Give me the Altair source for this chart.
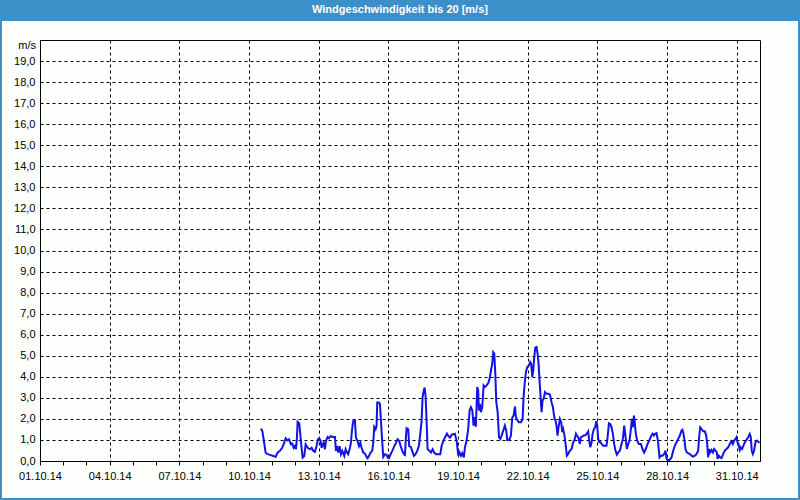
import altair as alt
import pandas as pd

TITLE = "Windgeschwindigkeit bis 20 [m/s]"
UNIT = "m/s"
BLUE = "#3d8fc9"
LINE = "#1212e6"
FONT = "Liberation Sans"

# (hours since 01.10.14 00:00, wind speed m/s)
seg_a = [(228.3, 1.54), (229.7, 1.43), (231.4, 0.95), (233.1, 0.40), (234.2, 0.35), (237.6, 0.29),
         (241.0, 0.24), (243.5, 0.19), (245.5, 0.40), (247.9, 0.48), (250.3, 0.63), (252.4, 0.87),
         (253.8, 1.08), (255.5, 0.98), (257.2, 1.03), (259.3, 0.79), (260.7, 0.83), (262.1, 0.63),
         (263.4, 0.71), (264.5, 0.56), (265.5, 1.11), (266.2, 1.86), (267.9, 1.78), (269.3, 1.11),
         (270.3, 0.63), (271.4, 0.16), (273.1, 0.24), (274.5, 0.79), (276.6, 0.63), (278.9, 0.56),
         (280.7, 0.63), (282.4, 0.48), (284.1, 0.44), (285.8, 0.71), (287.2, 1.03), (288.6, 1.08),
         (290.0, 0.95), (291.0, 0.63), (292.0, 0.79), (293.1, 0.87), (294.4, 0.56), (295.5, 0.95),
         (297.2, 1.14), (298.6, 1.08), (300.6, 1.19), (302.4, 1.14), (304.8, 1.14), (305.8, 0.48),
         (306.8, 0.71), (308.2, 0.40), (309.6, 0.71), (311.0, 0.32), (312.4, 0.48), (314.4, 0.24),
         (315.8, 0.56), (317.2, 0.40), (318.5, 0.32), (320.3, 0.63), (321.3, 0.87), (322.3, 1.43),
         (323.4, 1.83), (324.1, 1.94)]
seg_b = [(325.4, 1.94), (326.5, 1.11), (328.2, 0.95), (329.6, 0.71), (331.0, 0.87), (332.3, 0.63),
         (334.1, 0.40), (335.8, 0.35), (337.5, 0.19), (338.5, 0.13), (339.9, 0.24), (341.6, 0.40),
         (343.3, 0.48), (344.4, 0.87), (345.4, 1.62), (346.8, 1.51), (347.8, 1.67), (348.5, 2.78),
         (350.2, 2.78), (351.3, 2.70), (352.3, 1.90), (353.7, 0.87), (354.7, 0.19), (356.5, 0.32),
         (358.2, 0.29), (359.2, 0.16), (360.6, 0.13), (362.3, 0.32), (364.0, 0.48), (365.8, 0.67),
         (367.5, 0.83), (369.5, 1.03), (371.3, 0.95), (372.6, 0.71), (374.4, 0.48), (376.1, 0.32),
         (377.1, 0.29), (378.1, 1.11), (378.8, 1.56), (380.5, 1.51), (381.5, 0.71), (383.2, 0.67),
         (384.6, 0.48), (386.4, 0.24), (388.1, 0.32), (389.8, 0.48), (391.5, 0.71), (392.9, 1.27),
         (394.3, 1.90), (395.3, 3.02), (396.4, 3.30), (397.4, 3.49), (398.4, 3.10), (399.5, 1.90),
         (400.5, 0.56), (401.9, 0.51), (404.0, 0.40), (405.7, 0.56), (407.4, 0.40), (409.2, 0.32),
         (411.6, 0.32), (413.6, 0.32), (415.0, 0.71), (416.7, 0.95), (418.4, 1.11), (420.5, 1.30),
         (421.9, 1.19), (423.6, 1.11), (425.3, 1.24), (427.1, 1.27)]
seg_c = [(428.7, 1.29), (430.5, 0.97), (432.2, 0.25), (433.6, 0.41), (435.0, 0.25), (436.3, 0.37),
         (438.0, 0.17), (439.1, 0.65), (440.8, 0.97), (442.5, 1.52), (443.9, 2.40), (445.3, 2.56),
         (446.7, 2.40), (448.0, 1.68), (449.4, 2.08), (450.4, 1.63), (451.8, 3.51), (452.8, 3.35),
         (453.5, 2.40), (454.6, 2.71), (455.6, 2.32), (457.0, 2.56), (458.4, 3.59), (459.7, 3.51),
         (461.5, 3.59), (463.2, 3.70), (464.6, 3.90), (466.0, 4.30), (467.3, 4.62), (468.4, 5.17),
         (469.4, 5.10), (470.5, 4.14), (471.5, 2.79), (472.9, 2.32), (474.3, 1.13), (475.6, 1.05),
         (477.0, 1.21), (478.7, 1.44), (480.4, 1.68), (481.8, 1.44), (482.8, 1.00), (484.9, 1.00),
         (486.6, 1.21), (488.0, 2.05), (489.4, 2.16), (490.8, 2.59), (491.8, 2.08), (493.2, 1.95),
         (494.9, 1.84), (497.0, 1.84), (498.7, 2.00), (499.7, 3.03), (500.8, 3.67), (502.1, 4.22),
         (503.5, 4.46), (505.2, 4.54), (506.6, 4.70), (507.6, 4.62), (508.7, 3.98), (509.7, 4.30),
         (510.7, 4.94), (511.8, 5.38), (513.1, 5.41), (514.2, 5.10), (515.2, 4.62), (516.2, 3.83),
         (517.3, 3.03), (518.3, 2.32), (519.3, 2.87), (520.4, 2.95), (521.8, 3.27), (523.5, 3.19),
         (525.2, 3.19), (526.9, 3.16), (528.6, 2.79), (530.0, 2.56), (531.4, 2.08)]
seg_d = [(532.7, 1.92), (533.7, 1.68), (534.8, 1.21), (535.8, 1.60), (537.2, 2.00), (538.6, 1.84),
         (539.6, 1.37), (540.6, 1.52), (541.7, 1.29), (543.1, 0.81), (544.4, 0.25), (545.8, 0.33),
         (547.5, 0.49), (549.3, 0.57), (551.0, 0.89), (552.7, 1.05), (553.8, 1.29), (554.8, 1.21),
         (556.2, 1.13), (557.9, 0.81), (558.9, 1.13), (560.3, 1.16), (561.7, 1.21), (563.1, 1.21),
         (564.8, 1.29), (566.5, 1.41), (567.5, 0.97), (568.6, 0.65), (570.0, 0.89), (571.0, 1.29),
         (572.4, 1.52), (573.7, 1.60), (574.8, 1.89), (575.8, 1.68), (576.8, 1.05), (577.9, 0.89),
         (579.3, 0.89), (580.3, 0.81), (582.0, 0.73), (583.7, 0.73), (585.4, 0.73), (586.5, 1.13),
         (587.9, 1.79), (589.2, 1.76), (590.6, 1.60), (592.0, 1.29), (593.3, 0.81), (594.7, 0.49),
         (596.1, 0.30), (597.5, 0.41), (599.2, 0.49), (600.9, 0.81), (602.3, 1.05), (603.7, 1.68),
         (605.1, 1.13), (606.4, 0.57), (607.8, 0.81), (609.2, 0.97), (610.6, 1.52), (611.6, 2.00),
         (612.6, 1.60), (613.7, 2.16), (614.7, 1.76), (615.7, 1.29), (617.1, 0.97), (618.8, 0.81),
         (620.9, 0.81), (622.6, 0.57), (624.3, 0.41), (626.0, 0.57), (627.8, 0.81), (629.5, 0.97),
         (631.2, 1.16), (632.9, 1.29), (634.3, 1.21)]
seg_e = [(635.4, 1.29), (637.1, 1.32), (638.5, 0.97), (639.5, 0.49), (640.2, 0.17), (641.6, 0.25),
         (643.3, 0.25), (645.0, 0.33), (646.4, 0.49), (647.4, 0.10), (648.5, 0.05), (650.5, 0.05),
         (652.6, 0.17), (654.3, 0.49), (656.0, 0.73), (657.8, 0.89), (659.5, 1.05), (661.2, 1.21),
         (662.9, 1.44), (663.9, 1.48), (665.0, 1.29), (666.0, 0.97), (667.0, 0.57), (668.4, 0.41),
         (669.8, 0.37), (671.5, 0.33), (673.2, 0.25), (674.9, 0.21), (676.7, 0.25), (678.4, 0.33),
         (680.1, 0.49), (681.1, 1.13), (682.2, 1.60), (683.5, 1.52), (685.3, 1.41), (687.0, 1.41),
         (688.4, 1.21), (689.4, 0.81), (690.4, 0.17), (691.5, 0.57), (692.5, 0.41), (693.9, 0.52),
         (695.3, 0.41), (696.6, 0.57), (698.0, 0.49), (699.4, 0.41), (700.1, 0.10), (701.4, 0.25),
         (702.8, 0.17), (704.2, 0.14), (705.9, 0.33), (707.6, 0.49), (709.4, 0.57), (711.1, 0.65),
         (712.8, 0.81), (714.5, 0.94), (715.9, 0.81), (717.3, 0.97), (718.7, 1.05), (719.7, 1.13),
         (720.7, 0.89), (721.8, 0.81), (723.1, 0.52), (724.2, 0.65), (725.5, 0.57), (726.9, 0.73),
         (728.3, 0.89), (730.0, 1.00), (731.7, 1.13), (733.4, 1.29), (734.5, 1.13), (735.5, 0.49),
         (736.6, 0.33), (737.9, 0.49), (739.3, 0.89), (740.7, 0.97), (742.7, 0.89), (743.7, 0.89)]

y_ticks = list(range(0, 20))
x_ticks = list(range(0, 31))  # days since 01.10.14

rows = seg_a + seg_b + seg_c + seg_d + seg_e
df = pd.DataFrame(rows, columns=["hours", "speed"])
df["day"] = df["hours"] / 24.0

deco = pd.DataFrame({"t": [TITLE]})

x_enc = alt.X(
    "day:Q",
    scale=alt.Scale(domain=[0, 31], nice=False, zero=False),
    axis=alt.Axis(
        values=x_ticks,
        title=None,
        labelExpr="datum.value % 3 == 0 ? (datum.value < 9 ? '0' : '') + (datum.value + 1) + '.10.14' : ''",
        labelFont=FONT, labelFontSize=11, labelColor="black",
        labelPadding=5, tickSize=4, tickColor="black",
        domainColor="black", labelOverlap=False, labelFlush=False,
        grid=True, gridColor="black", gridDash=[3, 3], gridWidth=1,
        gridOpacity={"condition": {"test": "datum.value % 3 == 0", "value": 1}, "value": 0},
    ),
)
y_enc = alt.Y(
    "speed:Q",
    scale=alt.Scale(domain=[0, 20], nice=False),
    axis=alt.Axis(
        values=y_ticks,
        title=None,
        labelExpr="replace(format(datum.value, '.1f'), '.', ',')",
        labelFont=FONT, labelFontSize=11, labelColor="black",
        labelPadding=5, ticks=False, domainColor="black",
        grid=True, gridColor="black", gridDash=[3, 3], gridWidth=1,
    ),
)

line = alt.Chart(df).mark_line(color=LINE, strokeWidth=2, clip=True).encode(x=x_enc, y=y_enc)

bar = alt.Chart(deco).mark_rect(color=BLUE).encode(
    x=alt.value(-40), x2=alt.value(760), y=alt.value(-40), y2=alt.value(-19)
)
border = alt.Chart(deco).mark_rect(filled=False, stroke=BLUE, strokeWidth=4).encode(
    x=alt.value(-40), x2=alt.value(760), y=alt.value(-40), y2=alt.value(460)
)
title = alt.Chart(deco).mark_text(
    color="white", font=FONT, fontSize=11, fontWeight="bold", align="center", baseline="middle"
).encode(x=alt.value(360), y=alt.value(-30), text="t:N")
unit = alt.Chart(deco).mark_text(
    color="black", font=FONT, fontSize=11, align="right", baseline="middle"
).encode(x=alt.value(-4), y=alt.value(6), text=alt.value(UNIT))

chart = (
    alt.layer(bar, border, title, unit, line)
    .properties(
        width=720, height=421,
        autosize=alt.AutoSizeParams(type="none"),
        padding={"left": 40, "top": 40, "right": 40, "bottom": 39},
        background="#fcfffc",
    )
    .configure_view(stroke="black", strokeWidth=1)
)

chart.save("out.html", embed_options={"renderer": "svg", "actions": False})
